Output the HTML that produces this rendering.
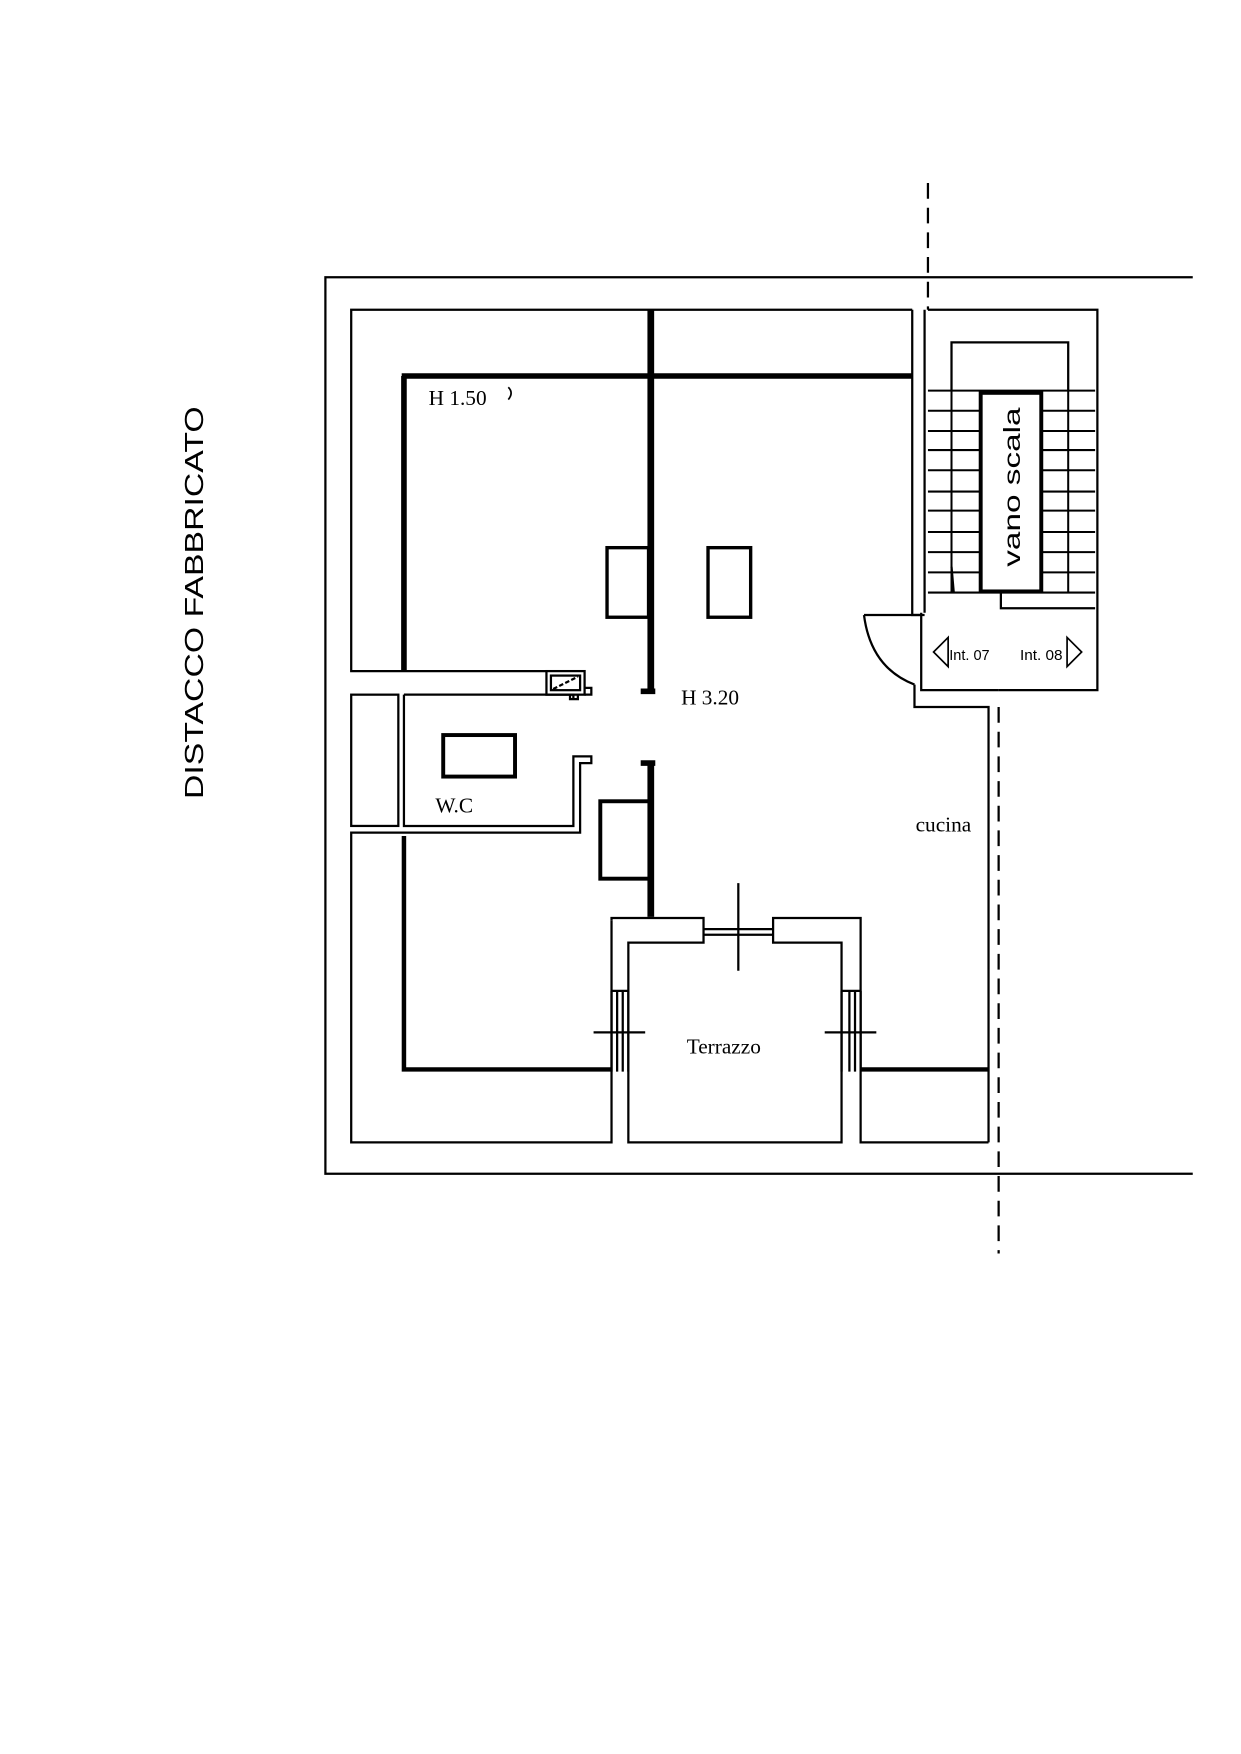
<!DOCTYPE html>
<html><head><style>html,body{margin:0;padding:0;background:#fff}svg{display:block}</style></head>
<body>
<svg width="1241" height="1754" viewBox="0 0 1106 1563" xmlns="http://www.w3.org/2000/svg" fill="none" stroke="#000" stroke-width="2">
<path d="M1063 247H290V1046H1063"/>
<path d="M827 163V276" stroke-dasharray="14 8"/>
<path d="M890 630V1117" stroke-dasharray="14 8"/>
<path d="M824 276V546M813 276V548H824"/>
<path d="M827 276H978V615H890"/>
<path d="M848 347V305H952V347"/>
<g stroke-width="1.8">
<path d="M827 348H976M827 366H976M827 384H976M827 401H976M827 419H976M827 438H976M827 455H976M827 474H976M827 492H976M827 510H976M827 528H976"/>
<path d="M848 347V528M952 347V528"/>
</g>
<rect x="874" y="350" width="54" height="177" stroke-width="3.5" fill="#fff"/>
<path d="M892 527V542H976"/>
<path d="M821 546V615H890"/>
<path d="M848 505L850 528"/>
<path d="M770 548H821M770 548Q776 595 815 610"/>
<path d="M815 610V630H881V1018"/>
<path d="M845 568L832 581L845 594Z M951 568L964 581L951 594Z" stroke-width="1.5"/>
<path d="M813 276H313V598H487"/>
<path d="M358 335H813M360 335V598" stroke-width="5"/>
<path d="M580 276V618" stroke-width="6"/>
<path d="M571 616H584M571 680H584" stroke-width="5"/>
<path d="M580 678V817" stroke-width="6"/>
<rect x="487" y="598" width="34" height="21"/>
<rect x="491" y="602" width="26" height="13"/>
<path d="M493 614L515 603" stroke-dasharray="4 2"/>
<path d="M521 613H527V619H521M508 619V623H515V619"/>
<path d="M360 619H511V622"/>
<rect x="313" y="619" width="42" height="117"/>
<path d="M360 619V736H511V674H527V680H517V742H313V1018H545V820"/>
<rect x="395" y="655" width="64" height="37" stroke-width="3.5"/>
<rect x="535" y="714" width="45" height="69" stroke-width="3.5"/>
<rect x="541" y="488" width="37" height="62" stroke-width="3"/>
<rect x="631" y="488" width="38" height="62" stroke-width="3"/>
<path d="M360 745V953H545" stroke-width="4"/>
<path d="M767 953H881" stroke-width="4"/>
<path d="M545 820V818H627V840H560V1018H750V840H689V818H767V1018H881"/>
<path d="M627 828H689M627 833H689"/>
<path d="M658 787V865"/>
<path d="M545 883H560M550 883V955M555 883V955"/>
<path d="M750 883H767M757 883V955M762 883V955"/>
<path d="M529 920H575M735 920H781"/>
<path d="M545 883V955M560 883V955M750 883V955M767 883V955"/>
<path d="M453 345Q458 350 453 356" stroke-width="1.5"/>
<g fill="#000" stroke="none" font-family="Liberation Serif, serif" font-size="19">
<text x="382" y="361">H 1.50</text>
<text x="607" y="628">H 3.20</text>
<text x="388" y="724">W.C</text>
<text x="816" y="741">cucina</text>
<text x="612" y="939">Terrazzo</text>
<text x="846" y="588" font-family="Liberation Sans Narrow, Liberation Sans, sans-serif" font-size="13" textLength="36" lengthAdjust="spacingAndGlyphs">Int. 07</text>
<text x="909" y="588" font-family="Liberation Sans Narrow, Liberation Sans, sans-serif" font-size="13" textLength="38" lengthAdjust="spacingAndGlyphs">Int. 08</text>
<text transform="translate(909 434) rotate(-90)" text-anchor="middle" font-family="Liberation Sans, sans-serif" font-size="21" textLength="142" lengthAdjust="spacingAndGlyphs">vano scala</text>
<text transform="translate(181 537) rotate(-90)" text-anchor="middle" font-family="Liberation Sans, sans-serif" font-size="23" textLength="350" lengthAdjust="spacingAndGlyphs">DISTACCO FABBRICATO</text>
</g>
</svg>
</body></html>
